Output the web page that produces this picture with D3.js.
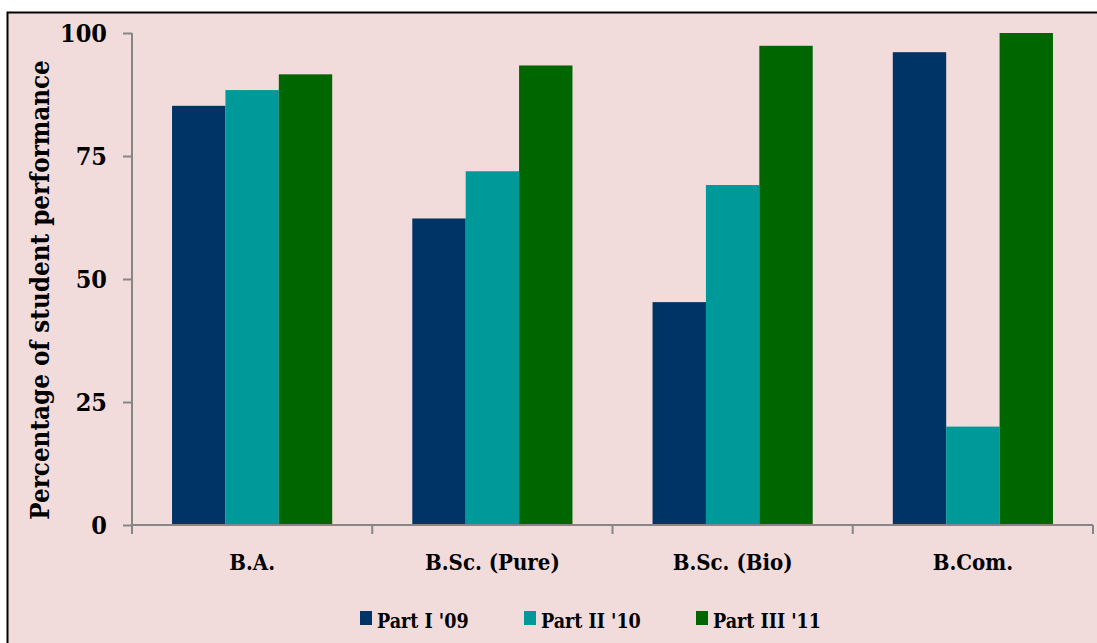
<!DOCTYPE html>
<html>
<head>
<meta charset="utf-8">
<script src="https://cdn.jsdelivr.net/npm/d3@7"></script>
<style>
  html, body { margin: 0; padding: 0; background: #ffffff; }
  svg { display: block; }
  text { font-family: "DejaVu Serif Condensed", "DejaVu Serif", serif; font-stretch: condensed; font-weight: bold; fill: #000; }
</style>
</head>
<body>
<svg id="chart" width="1097" height="643"></svg>
<script>
// Course groups along the x axis
const categories = ["B.A.", "B.Sc. (Pure)", "B.Sc. (Bio)", "B.Com."];
// One series per exam year
const seriesNames = ["Part I '09", "Part II '10", "Part III '11"];
const part1 = [85.2, 62.3, 45.3, 96.1];
const part2 = [88.4, 71.9, 69.1, 20.0];
const part3 = [91.6, 93.4, 97.4, 100.0];
const yTicks = [0, 25, 50, 75, 100];
const colors = ["#003366", "#009999", "#006600"];

const seriesValues = [part1, part2, part3];
const fontStack = "'DejaVu Serif Condensed', 'DejaVu Serif', serif";

const svg = d3.select("#chart");

// Chart frame
svg.append("rect")
  .attr("x", 7.5).attr("y", 12.5)
  .attr("width", 1097).attr("height", 643)
  .attr("fill", "#f2dcdb")
  .attr("stroke", "#000").attr("stroke-width", 2);

const plot = { left: 132, right: 1093, top: 33, bottom: 525 };

const x = d3.scaleBand()
  .domain(categories)
  .range([plot.left, plot.right])
  .paddingInner(0).paddingOuter(0);

const inner = d3.scaleBand()
  .domain(seriesNames)
  .range([0, x.bandwidth()])
  .paddingInner(0)
  .paddingOuter(0.75);

const y = d3.scaleLinear().domain([0, 100]).range([plot.bottom, plot.top]);

// Bars
seriesNames.forEach((name, si) => {
  svg.append("g")
    .selectAll("rect")
    .data(categories.map((c, ci) => ({ c, v: seriesValues[si][ci] })))
    .join("rect")
    .attr("x", d => x(d.c) + inner(name))
    .attr("y", d => y(d.v))
    .attr("width", inner.bandwidth())
    .attr("height", d => y(0) - y(d.v))
    .attr("fill", colors[si]);
});

// Y axis
const yAxis = svg.append("g")
  .attr("transform", `translate(${plot.left},0)`)
  .call(d3.axisLeft(y).tickValues(yTicks).tickSize(9).tickPadding(16));
yAxis.selectAll("path, line").attr("stroke", "#868686").attr("stroke-width", 2);
yAxis.select(".domain").attr("d", `M0,${plot.top}V${plot.bottom}`);
yAxis.selectAll("text")
  .style("font-family", fontStack)
  .style("font-weight", "bold")
  .style("font-size", "25px")
  .attr("fill", "#000");

// X axis with ticks on category boundaries
const xAxisG = svg.append("g").attr("transform", `translate(0,${plot.bottom})`);
xAxisG.append("line")
  .attr("x1", plot.left).attr("x2", plot.right)
  .attr("stroke", "#868686").attr("stroke-width", 2);
const bounds = categories.map(c => x(c)).concat([plot.right]);
xAxisG.selectAll("line.tick")
  .data(bounds)
  .join("line")
  .attr("class", "tick")
  .attr("x1", d => d).attr("x2", d => d)
  .attr("y1", 0).attr("y2", 9)
  .attr("stroke", "#868686").attr("stroke-width", 2);
xAxisG.selectAll("text")
  .data(categories)
  .join("text")
  .attr("x", d => x(d) + x.bandwidth() / 2)
  .attr("y", 45)
  .attr("text-anchor", "middle")
  .style("font-size", "22px")
  .text(d => d);

// Y axis title
svg.append("text")
  .attr("transform", `translate(49,${(plot.top + plot.bottom) / 2 + 11}) rotate(-90)`)
  .attr("text-anchor", "middle")
  .style("font-size", "25.7px")
  .text("Percentage of student performance");

// Legend
const legendItems = [
  { name: seriesNames[0], x: 360 },
  { name: seriesNames[1], x: 524 },
  { name: seriesNames[2], x: 696 }
];
const legend = svg.append("g");
legendItems.forEach((it, i) => {
  legend.append("rect")
    .attr("x", it.x).attr("y", 611)
    .attr("width", 12).attr("height", 14)
    .attr("fill", colors[i]);
  legend.append("text")
    .attr("x", it.x + 17).attr("y", 628)
    .style("font-size", "19.5px")
    .text(it.name);
});
</script>
</body>
</html>
